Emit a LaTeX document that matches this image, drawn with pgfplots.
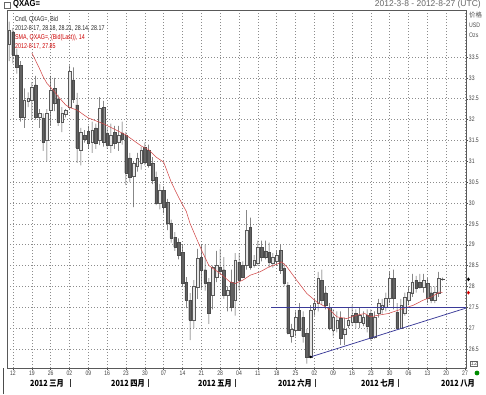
\documentclass[border=0pt]{standalone}
\usepackage{pgfplots}
\pgfplotsset{compat=1.18}
\usepackage{pgfplotstable}
\usepackage{fontspec}
\setmainfont{Liberation Sans}
\newfontfamily\cjk{Noto Sans CJK SC}
\definecolor{darkbody}{HTML}{626262}
\definecolor{lightbody}{HTML}{E6E6E6}
\definecolor{smared}{HTML}{D24A4A}
\definecolor{trendblue}{HTML}{3A3A98}
\definecolor{gridgray}{HTML}{8C8C8C}

\pgfplotstableread{
i O H L C
-1 33.80 34.35 33.40 34.15
0 34.10 34.20 33.35 33.55
1 33.55 33.70 33.10 33.25
2 33.30 33.40 31.95 32.05
3 32.06 32.75 31.80 32.47
4 32.45 32.65 32.30 32.52
5 32.47 32.90 32.00 32.78
6 32.83 33.05 32.00 32.06
7 32.06 32.25 31.80 32.16
8 32.04 32.15 31.25 31.46
9 31.50 32.25 31.00 32.16
10 32.23 33.05 31.85 32.70
11 32.75 33.00 32.20 32.40
12 32.50 32.60 31.85 31.94
13 31.94 32.30 31.70 32.16
14 32.12 32.25 32.05 32.22
15 32.30 33.30 32.25 33.15
16 32.95 33.25 32.40 32.50
17 32.35 32.64 30.96 31.32
18 31.27 31.80 30.90 31.70
19 31.62 31.75 31.45 31.54
20 31.72 31.85 31.30 31.44
21 31.46 31.95 31.20 31.75
22 31.80 31.90 31.30 31.44
23 31.51 32.54 31.39 32.28
24 32.30 32.45 31.35 31.46
25 31.68 31.80 31.30 31.39
26 31.39 31.90 31.20 31.63
27 31.70 31.85 31.30 31.44
28 31.45 31.85 31.25 31.62
29 31.68 31.95 31.40 31.52
30 31.63 31.70 30.43 30.72
31 31.08 31.20 30.50 30.62
32 30.65 31.00 29.90 30.95
33 30.88 31.20 30.75 31.08
34 30.96 31.35 30.80 31.27
35 31.34 31.45 30.90 30.98
36 31.27 31.40 30.85 30.90
37 30.96 31.10 30.45 30.55
38 30.62 30.75 29.95 29.99
39 29.99 30.45 29.85 30.31
40 30.31 30.40 29.75 29.90
41 30.02 30.10 29.35 29.52
42 29.52 29.60 29.05 29.16
43 29.18 29.30 28.85 28.94
44 29.05 29.15 28.65 28.75
45 28.82 29.00 28.00 28.08
46 28.10 28.22 27.48 27.67
47 27.67 27.84 26.71 27.19
48 27.19 28.15 27.00 28.00
49 27.98 28.90 27.70 28.68
50 28.70 29.00 27.95 28.40
51 28.40 29.00 27.90 28.08
52 28.10 28.20 27.10 27.36
53 27.80 28.50 27.45 28.46
54 28.22 28.85 28.10 28.50
55 28.46 28.90 28.30 28.36
56 28.40 28.70 27.70 27.80
57 27.78 28.00 27.40 27.90
58 28.10 28.40 27.40 27.50
59 27.67 28.80 27.30 28.63
60 28.58 28.80 27.90 28.15
61 28.50 28.60 28.20 28.22
62 28.51 29.83 28.40 29.35
63 29.42 29.65 28.40 28.46
64 28.52 28.75 28.45 28.64
65 28.56 29.10 28.50 28.94
66 28.94 29.10 28.60 28.70
67 28.85 29.10 28.65 28.70
68 28.82 29.05 28.45 28.58
69 28.56 28.80 28.45 28.70
70 28.60 28.85 28.50 28.74
71 28.87 29.00 28.30 28.40
72 28.44 28.55 28.00 28.08
73 28.03 28.10 26.85 26.88
74 26.80 27.10 26.65 26.97
75 26.95 27.40 26.80 27.26
76 27.43 27.60 26.95 26.95
77 27.26 27.40 26.65 26.80
78 26.88 26.98 26.15 26.30
79 26.30 27.55 26.28 27.43
80 27.45 27.70 27.30 27.60
81 27.60 28.35 27.40 28.20
82 28.15 28.40 27.55 27.67
83 27.85 28.00 27.45 27.55
84 27.50 27.60 26.95 27.00
85 26.95 27.45 26.80 27.26
86 27.00 27.40 26.90 27.20
87 27.24 27.40 26.60 26.76
88 26.85 27.25 26.60 26.97
89 27.06 27.50 27.00 27.20
90 27.15 27.55 27.05 27.30
91 27.35 27.45 27.00 27.15
92 27.14 27.50 27.00 27.30
93 27.12 27.40 27.05 27.26
94 27.30 27.45 26.90 27.05
95 27.36 27.45 26.70 26.76
96 26.79 27.40 26.75 27.26
97 27.36 27.70 27.25 27.60
98 27.45 27.70 27.35 27.56
99 27.50 27.85 27.40 27.72
100 27.72 28.35 27.60 28.20
101 28.20 28.40 27.45 27.72
102 27.38 27.60 27.00 27.00
103 27.00 27.70 26.98 27.55
104 27.35 27.85 27.30 27.75
105 27.68 28.00 27.55 27.86
106 27.85 28.30 27.75 28.10
107 28.15 28.25 27.85 27.95
108 28.10 28.30 27.95 27.98
109 27.98 28.30 27.85 28.15
110 28.08 28.20 27.60 27.72
111 27.85 28.00 27.60 27.68
112 27.68 28.00 27.60 27.86
113 27.84 28.35 27.75 28.20
114 28.18 28.21 28.14 28.17
}\ohlc

\pgfplotstableread{
i S
5 33.60
7 33.23
8 33.03
9 32.87
10 32.77
11 32.67
12 32.55
14 32.35
15 32.29
16 32.26
17 32.23
19 32.10
20 32.04
22 31.97
24 31.90
26 31.81
28 31.72
30 31.63
32 31.50
34 31.37
36 31.28
38 31.10
40 30.98
42 30.50
44 30.13
46 29.80
47 29.51
48 29.30
50 28.88
52 28.50
55 28.31
57.6 28.11
59 28.07
61 28.15
63 28.27
65.6 28.35
68 28.47
70 28.53
71.3 28.59
72.7 28.47
75.3 28.15
78 27.83
80.6 27.63
83.7 27.47
86 27.27
88.6 27.23
91.2 27.31
93.4 27.35
94.8 27.27
97 27.31
99.6 27.35
103.6 27.47
106.3 27.55
108.9 27.67
111.1 27.75
113.4 27.87
114 27.85
}\sma

\pgfplotsset{
  base/.style={scale only axis, width=459pt, height=358pt,
    xmin=-1.59, xmax=120.26, ymin=26.044, ymax=34.627,
    at={(7pt,26pt)}, anchor=south west},
}

\begin{document}
\begin{tikzpicture}
\useasboundingbox (0,0) rectangle (486pt,394pt);
\begin{axis}[base,
  axis line style={black!65, line width=0.5pt},
  xmajorgrids=true, ymajorgrids=true,
  major grid style={draw=gridgray, dash pattern=on 1.3pt off 1.7pt, line width=0.5pt},
  tick align=outside, major tick length=2pt, tick style={black!70, line width=0.4pt},
  xtick pos=bottom, ytick pos=right, yticklabel pos=right,
  xtick={0,5,...,120},
  xticklabels={12,19,26,02,09,16,23,30,07,14,21,28,04,11,18,25,02,09,16,23,30,06,13,20,27},
  ytick={26.5,27,27.5,28,28.5,29,29.5,30,30.5,31,31.5,32,32.5,33,33.5},
  yticklabels={26.5,27,27.5,28,28.5,29,29.5,30,30.5,31,31.5,32,32.5,33,33.5},
  xticklabel style={font=\fontsize{6.5}{6.5}\selectfont, xscale=0.78, text=black!75, inner sep=1pt},
  yticklabel style={font=\fontsize{6.5}{6.5}\selectfont, xscale=0.78, text=black!75, inner sep=1pt, anchor=west},
]
\end{axis}
% wicks: thin stacked bars from L to H
\begin{axis}[base, hide axis, ybar stacked, bar width=0.5pt]
\addplot[draw=none, fill=none] table[x=i, y=L] {\ohlc};
\addplot[draw=none, fill=black!72] table[x=i, y expr={\thisrow{H}-\thisrow{L}}] {\ohlc};
\end{axis}
% bodies: stacked bars from min(O,C) to max(O,C)
\begin{axis}[base, hide axis, ybar stacked, bar width=2.6pt]
\addplot[draw=none, fill=none] table[x=i, y expr={min(\thisrow{O},\thisrow{C})}] {\ohlc};
\addplot[fill=lightbody, draw=black!65, line width=0.3pt] table[x=i, y expr={max(\thisrow{C}-\thisrow{O},0)}] {\ohlc};
\addplot[fill=darkbody, draw=black!70, line width=0.3pt] table[x=i, y expr={max(\thisrow{O}-\thisrow{C},0)}] {\ohlc};
\end{axis}
\begin{axis}[base, hide axis, clip=false]
\addplot[smared, line width=0.55pt, mark=none] table[x=i, y=S] {\sma};
\addplot[trendblue, line width=0.75pt, mark=none] coordinates {(68.5,27.5) (120.26,27.5)};
\addplot[trendblue, line width=0.75pt, mark=*, mark size=0.8pt, mark indices={1}, mark options={fill=black, draw=black}] coordinates {(79,26.31) (120.26,27.48)};
\addplot[only marks, mark=diamond*, mark size=1.6pt, black] coordinates {(120.9,28.17)};
\addplot[only marks, mark=diamond*, mark size=1.6pt, red!85!black] coordinates {(120.9,27.85)};
\end{axis}
% header
\draw[black!60, line width=0.5pt] (4pt,386pt) rectangle (10pt,392pt);
\node[anchor=west, font=\bfseries\fontsize{9}{9}\selectfont, xscale=0.85, inner sep=0pt] at (13pt,390pt) {QXAG=};
\node[anchor=east, font=\fontsize{8.5}{8.5}\selectfont, text=black!60, inner sep=0pt] at (481pt,390pt) {2012-3-8 - 2012-8-27 (UTC)};
% legend text
\begin{scope}[every node/.style={anchor=west, inner sep=0pt, xscale=0.76, font=\fontsize{7}{7}\selectfont}]
\node[text=black!85] at (15pt,374pt) {Cndl, QXAG=, Bid};
\node[text=black!85] at (15pt,365pt) {2012-8-17, 28.18, 28.21, 28.14, 28.17};
\node[text=red!80!black] at (15pt,356pt) {SMA, QXAG=, (Bid(Last)), 14};
\node[text=red!80!black] at (15pt,347pt) {2012-8-17, 27.85};
\end{scope}
% right unit labels
\begin{scope}[every node/.style={anchor=west, inner sep=0pt, text=black!70}]
\node[font=\cjk\fontsize{6.5}{6.5}\selectfont] at (469pt,379pt) {价格};
\node[font=\fontsize{6.5}{6.5}\selectfont, xscale=0.8] at (469pt,369pt) {USD};
\node[font=\fontsize{6.5}{6.5}\selectfont, xscale=0.8] at (469pt,359pt) {Ozs};
\end{scope}
% month labels
\begin{scope}[every node/.style={inner sep=0pt, font=\cjk\bfseries\fontsize{8.5}{8.5}\selectfont, xscale=0.85}]
\node at (47pt,11pt) {2012 三月};
\node at (128pt,11pt) {2012 四月};
\node at (215pt,11pt) {2012 五月};
\node at (295pt,11pt) {2012 六月};
\node at (378pt,11pt) {2012 七月};
\node at (458pt,11pt) {2012 八月};
\end{scope}
\foreach \sx in {70,148,235,315,398} {\draw[black!80, line width=0.5pt] (\sx pt,7pt) -- (\sx pt,15pt);}
\draw[black!70, line width=0.4pt] (3pt,0pt) -- (3pt,26pt);
% bottom-right widgets
\node[draw=black!60, inner sep=0.6pt, font=\fontsize{5.5}{5.5}\selectfont, text=black!70] at (474pt,30.5pt) {12};
\fill[green!55!black] (477pt,21pt) circle (2.4pt);
\end{tikzpicture}
\end{document}
